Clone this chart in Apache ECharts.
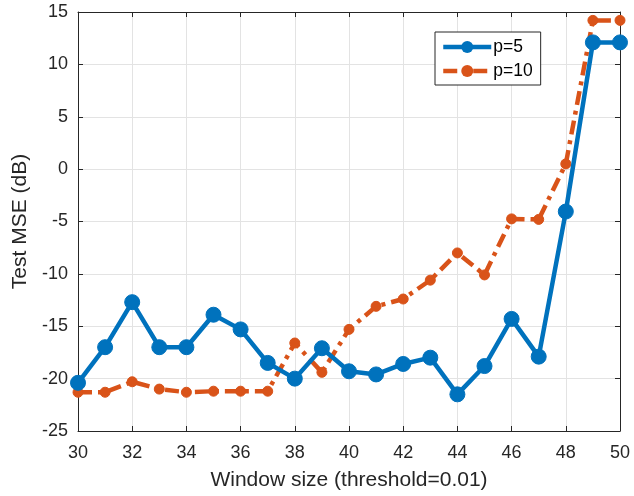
<!DOCTYPE html>
<html>
<head>
<meta charset="utf-8">
<script src="https://cdn.jsdelivr.net/npm/echarts@6/dist/echarts.min.js"></script>
<style>html,body{margin:0;padding:0;background:#fff}#c{width:634px;height:496px}</style>
</head>
<body>
<div id="c"></div>
<script>
var windowSizes = [30,31,32,33,34,35,36,37,38,39,40,41,42,43,44,45,46,47,48,49,50];
var p5 = [-20.4,-17.0,-12.7,-17.0,-17.0,-13.9,-15.3,-18.5,-20.0,-17.1,-19.3,-19.6,-18.6,-18.0,-21.5,-18.8,-14.3,-17.9,-4.05,12.1,12.1];
var p10 = [-21.3,-21.3,-20.3,-21.0,-21.3,-21.2,-21.2,-21.2,-16.6,-19.4,-15.3,-13.1,-12.4,-10.6,-8.0,-10.1,-4.75,-4.8,0.5,14.2,14.2];
var xTicks = [30,32,34,36,38,40,42,44,46,48,50];
var yTicks = [-25,-20,-15,-10,-5,0,5,10,15];

var FONT = 'Liberation Sans';
var AX = '#262626';
var chart = echarts.init(document.getElementById('c'), null, {renderer:'canvas'});
function pairs(ys){ return windowSizes.map(function(x,i){ return [x, ys[i]]; }); }
var baseX = {
  type:'value', min:xTicks[0], max:xTicks[xTicks.length-1], interval:2,
  axisLine:{show:true, onZero:false, lineStyle:{color:AX, width:1}},
  axisTick:{show:true, inside:true, length:5, lineStyle:{color:AX}},
  splitLine:{show:false}
};
var baseY = {
  type:'value', min:yTicks[0], max:yTicks[yTicks.length-1], interval:5,
  axisLine:{show:true, onZero:false, lineStyle:{color:AX, width:1}},
  axisTick:{show:true, inside:true, length:5, lineStyle:{color:AX}},
  splitLine:{show:false}
};
chart.setOption({
  animation:false,
  backgroundColor:'#fff',
  grid:{left:78, top:12, right:14, bottom:64, containLabel:false},
  legend:{
    show:true, orient:'vertical', left:435, top:32,
    backgroundColor:'#fff', borderColor:AX, borderWidth:1,
    padding:[6,8,5,6], itemGap:6, itemWidth:48, itemHeight:15,
    lineStyle:{width:4.5},
    textStyle:{fontFamily:FONT, fontSize:17.5, color:'#000', padding:[0,0,0,-3]},
    data:['p=5','p=10']
  },
  xAxis:[
    Object.assign({}, baseX, {
      position:'bottom',
      axisLabel:{show:true, margin:13, color:AX, fontFamily:FONT, fontSize:18},
      splitLine:{show:true, lineStyle:{color:'#e3e3e3', width:1}},
      name:'Window size (threshold=0.01)', nameLocation:'middle', nameGap:39,
      nameTextStyle:{fontFamily:FONT, fontSize:21, color:AX}
    }),
    Object.assign({}, baseX, {position:'top', axisLabel:{show:false}})
  ],
  yAxis:[
    Object.assign({}, baseY, {
      position:'left',
      axisLabel:{show:true, margin:10, color:AX, fontFamily:FONT, fontSize:18},
      splitLine:{show:true, lineStyle:{color:'#e3e3e3', width:1}},
      name:'Test MSE (dB)', nameLocation:'middle', nameGap:44,
      nameTextStyle:{fontFamily:FONT, fontSize:21, color:AX}
    }),
    Object.assign({}, baseY, {position:'right', axisLabel:{show:false}})
  ],
  series:[
    {
      name:'p=5', type:'line', data:pairs(p5),
      symbol:'circle', symbolSize:15,
      lineStyle:{color:'#0072BD', width:4.5},
      itemStyle:{color:'#0072BD', borderColor:'#0072BD'},
      z:3
    },
    {
      name:'p=10', type:'line', data:pairs(p10),
      symbol:'circle', symbolSize:10,
      lineStyle:{color:'#D95319', width:4.5, type:[14,6,4,6]},
      itemStyle:{color:'#D95319', borderColor:'#D95319'},
      z:2
    }
  ]
});
</script>
</body>
</html>
